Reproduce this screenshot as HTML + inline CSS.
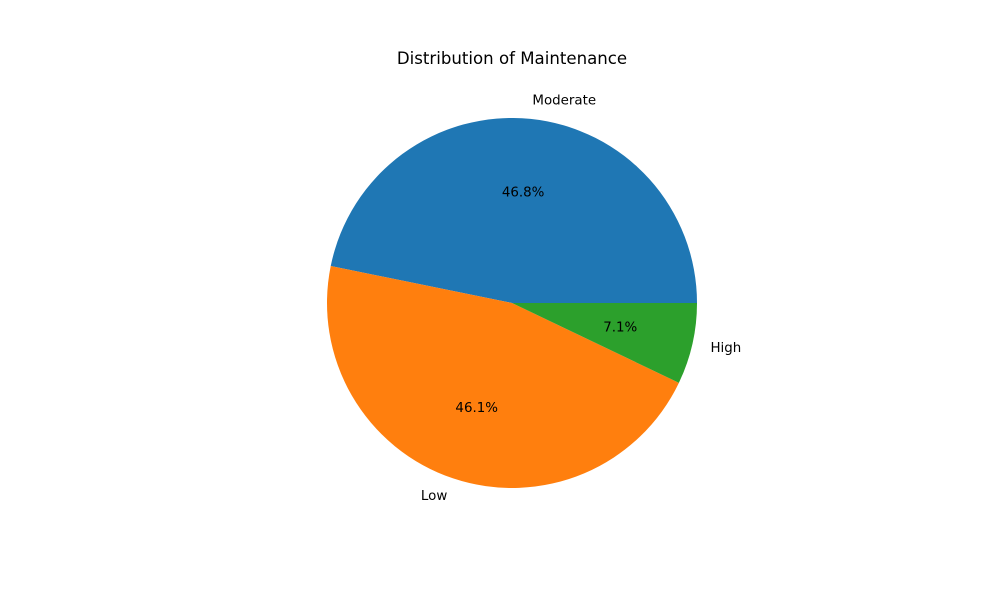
<!DOCTYPE html>
<html><head><meta charset="utf-8"><style>
body{margin:0;background:#fff;}
svg{display:block;font-family:"DejaVu Sans","Liberation Sans",sans-serif;}
</style></head><body>
<svg id="chart" width="1000" height="600">
<rect width="1000" height="600" fill="#fff"/>
<text x="512" y="64" text-anchor="middle" font-size="16.6" fill="#000">Distribution of Maintenance</text>
<g id="slices"></g>
</svg>
<script>
const categories = ["Moderate", "Low", "High"];
const values = [46.8, 46.1, 7.1];
const colors = ["#1f77b4", "#ff7f0e", "#2ca02c"];
const cx = 512, cy = 303, r = 185;
const g = document.getElementById('slices');
const NS = 'http://www.w3.org/2000/svg';
const total = values.reduce((a, b) => a + b, 0);
let start = 0;
function pt(angDeg, rad) {
  const a = angDeg * Math.PI / 180;
  return [cx + rad * Math.cos(a), cy - rad * Math.sin(a)];
}
values.forEach((v, i) => {
  const sweep = v / total * 360;
  const end = start + sweep;
  const p0 = pt(start, r), p1 = pt(end, r);
  const large = sweep > 180 ? 1 : 0;
  const path = document.createElementNS(NS, 'path');
  path.setAttribute('d', `M${cx},${cy} L${p0[0]},${p0[1]} A${r},${r} 0 ${large} 0 ${p1[0]},${p1[1]} Z`);
  path.setAttribute('fill', colors[i]);
  
  
  g.appendChild(path);
  const mid = start + sweep / 2;
  const lp = pt(mid, r * 1.1);
  const cosm = Math.cos(mid * Math.PI / 180);
  const lab = document.createElementNS(NS, 'text');
  lab.setAttribute('x', lp[0]);
  lab.setAttribute('y', lp[1] + 4);
  lab.setAttribute('font-size', '13.4');
  lab.setAttribute('text-anchor', cosm >= 0 ? 'start' : 'end');
  lab.textContent = categories[i];
  
  
  g.appendChild(lab);
  const pp = pt(mid, r * 0.6);
  const pc = document.createElementNS(NS, 'text');
  pc.setAttribute('x', pp[0]);
  pc.setAttribute('y', pp[1] + 4);
  pc.setAttribute('font-size', '13.4');
  pc.setAttribute('text-anchor', 'middle');
  pc.textContent = (v / total * 100).toFixed(1) + '%';
  
  
  g.appendChild(pc);
  start = end;
});
</script>
</body></html>
